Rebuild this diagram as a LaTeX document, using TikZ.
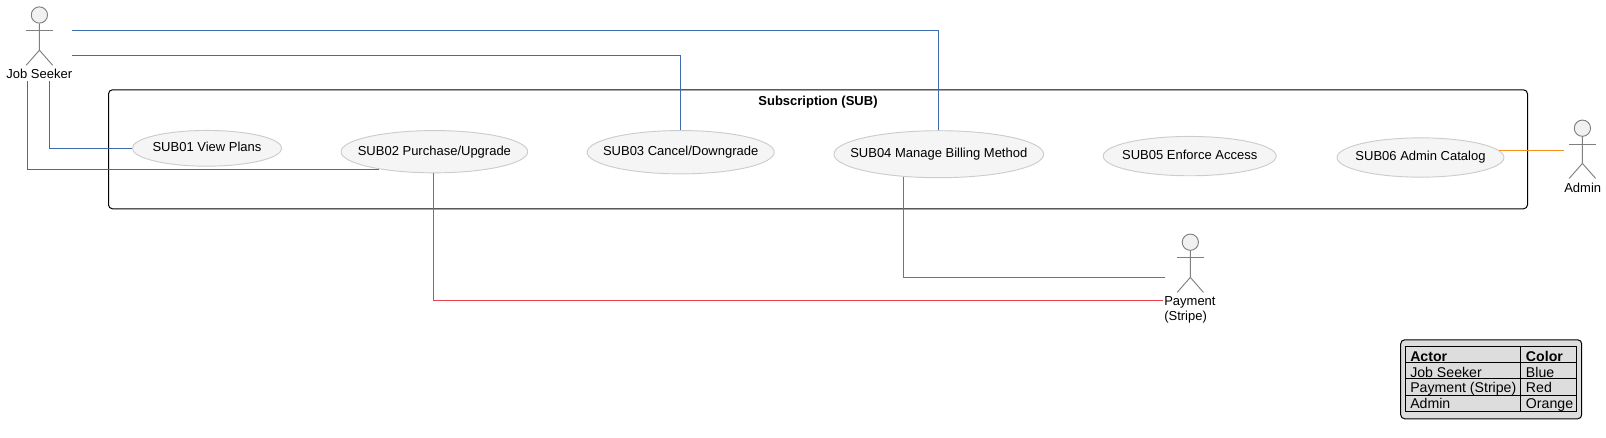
\documentclass[tikz,border=0pt]{standalone}
\usepackage{fontspec}
\setmainfont{Liberation Sans}
\usetikzlibrary{shapes.geometric}
\definecolor{ublue}{HTML}{3D6DB0}
\definecolor{ured}{HTML}{E8404F}
\definecolor{uorange}{HTML}{F5901E}
\definecolor{ufill}{HTML}{F5F5F5}
\definecolor{hfill}{HTML}{F1F1F1}
\definecolor{ugrey}{HTML}{7F7F7F}
\definecolor{lfill}{HTML}{DDDDDD}
\tikzset{
  txt/.style={font=\fontsize{9.75pt}{11.6pt}\selectfont,inner sep=0pt,text=black,anchor=base},
  ltxt/.style={font=\fontsize{10.6pt}{12pt}\selectfont,inner sep=0pt,text=black,anchor=base west},
  uc/.style={ellipse,draw=black!20,fill=ufill,line width=0.7pt,inner sep=0pt},
  conn/.style={line width=0.85pt},
  limb/.style={draw=ugrey,line width=0.7pt},
  actorhead/.style={circle,draw=ugrey,fill=hfill,line width=0.7pt,minimum size=12.2pt,inner sep=0pt},
}
\begin{document}
\begin{tikzpicture}[x=0.75pt,y=-0.75pt]
\useasboundingbox (0,-0.5) rectangle (1606,436.5);
% system frame
\node[draw=black,rounded corners=3pt,line width=0.75pt,minimum width=1064.25pt,minimum height=89.25pt,inner sep=0pt] (frame) at (818,148.8) {};
\node[txt,font=\fontsize{9.75pt}{11.6pt}\selectfont\bfseries] (ftitle) at (818,105) {Subscription (SUB)};
% use cases
\node[uc,minimum width=112pt,minimum height=26.8pt] (s1) at (207,147.8) {};
\node[uc,minimum width=140pt,minimum height=31.7pt] (s2) at (434.4,151.2) {};
\node[uc,minimum width=140.25pt,minimum height=32.5pt] (s3) at (680.7,151.7) {};
\node[uc,minimum width=157.3pt,minimum height=35.25pt] (s4) at (938.8,153.7) {};
\node[uc,minimum width=129.75pt,minimum height=29.5pt] (s5) at (1189.7,155.6) {};
\node[uc,minimum width=125.25pt,minimum height=29.5pt] (s6) at (1420.5,157) {};
\node[txt] (t1) at (207,151) {SUB01 View Plans};
\node[txt] (t2) at (434.4,155) {SUB02 Purchase/Upgrade};
\node[txt] (t3) at (680.7,155) {SUB03 Cancel/Downgrade};
\node[txt] (t4) at (938.8,157.3) {SUB04 Manage Billing Method};
\node[txt] (t5) at (1189.7,159) {SUB05 Enforce Access};
\node[txt] (t6) at (1420.5,159.7) {SUB06 Admin Catalog};
% actors
\node[actorhead] (h1) at (39.4,14.5) {};
\draw[limb] (h1.south) -- ++(0,26.6) coordinate (j1) -- ++(-13.2,15) (j1) -- ++(13.2,15);
\draw[limb] (26.2,30) -- (52.6,30);
\node[txt] (a1) at (39.3,78) {Job Seeker};
\node[actorhead] (h2) at (1582.4,127.7) {};
\draw[limb] (h2.south) -- ++(0,26.6) coordinate (j2) -- ++(-13.2,15) (j2) -- ++(13.2,15);
\draw[limb] (1569.2,143.7) -- (1595.6,143.7);
\node[txt] (a2) at (1582.7,191.7) {Admin};
\node[actorhead] (h3) at (1190.3,241.7) {};
\draw[limb] (h3.south) -- ++(0,26.6) coordinate (j3) -- ++(-13.2,15) (j3) -- ++(13.2,15);
\draw[limb] (1177.1,257.3) -- (1203.5,257.3);
\node[txt,anchor=base west] (a3) at (1164,305) {Payment};
\node[txt,anchor=base west] (a3b) at (1164,320) {(Stripe)};
% connectors
\coordinate (b1) at (72,30.4);
\coordinate (b2) at (72,55.4);
\coordinate (b3) at (49.4,80);
\coordinate (b4) at (27.4,80);
\draw[ublue,conn] (b1) -| (s4.north);
\draw[ublue,conn] (b2) -| (s3.north);
\draw[ublue,conn] (b3) |- (s1.west);
\coordinate (s2l) at (379,169.4);
\draw[ublue,conn] (b4) |- (s2l);
\coordinate (r1) at (1165,277.4);
\coordinate (r2) at (1163,300.2);
\coordinate (s4b) at (903.4,176.4);
\coordinate (s2b) at (433.4,172.4);
\draw[ured,conn] (s4b) |- (r1);
\draw[ured,conn] (s2b) |- (r2);
\coordinate (o1) at (1564,150.4);
\coordinate (o2) at (1499,150.4);
\draw[uorange,conn] (o2) -- (o1);
% legend
\node[draw=black,fill=lfill,rounded corners=3pt,line width=0.75pt,minimum width=135.75pt,minimum height=59.25pt,inner sep=0pt] (leg) at (1491.2,378.8) {};
\node[ltxt] (lg1) at (1410,360.6) {\textbf{Actor}};
\node[ltxt] (lg2) at (1525.7,360.6) {\textbf{Color}};
\node[ltxt] (lg3) at (1410,376.6) {Job Seeker};
\node[ltxt] (lg4) at (1525.7,376.6) {Blue};
\node[ltxt] (lg5) at (1410,392.4) {Payment (Stripe)};
\node[ltxt] (lg6) at (1525.7,392.4) {Red};
\node[ltxt] (lg7) at (1410,408.4) {Admin};
\node[ltxt] (lg8) at (1525.7,408.4) {Orange};
\draw[black,line width=0.75pt] (1405.7,346) rectangle (1576.7,411);
\draw[black,line width=0.75pt] (1520.7,346) -- (1520.7,411);
\draw[black,line width=0.75pt] (1405.7,362.3) -- (1576.7,362.3) (1405.7,378.4) -- (1576.7,378.4) (1405.7,394.7) -- (1576.7,394.7);
\end{tikzpicture}
\end{document}
